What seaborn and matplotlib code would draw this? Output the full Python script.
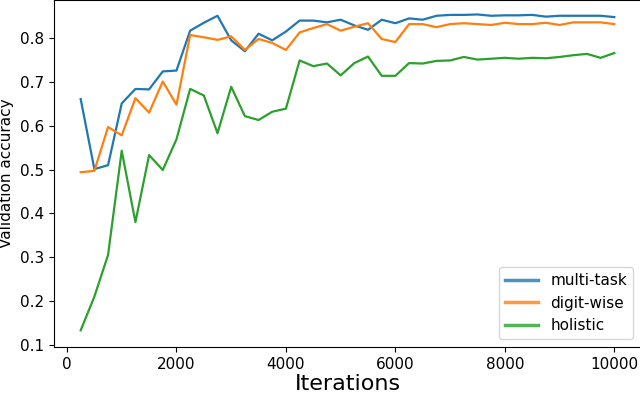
import numpy as np
import pandas as pd
import matplotlib
matplotlib.use("Agg")
import matplotlib.pyplot as plt
import seaborn as sns

# iterations: une mesure toutes les 250 iterations
iterations = list(range(250, 10001, 250))

multi_task = [0.661, 0.501, 0.510, 0.651, 0.684, 0.683, 0.724, 0.726,
              0.817, 0.835, 0.851, 0.795, 0.770, 0.810, 0.795, 0.815,
              0.840, 0.840, 0.836, 0.842, 0.829, 0.819, 0.842, 0.834,
              0.845, 0.842, 0.851, 0.853, 0.853, 0.854, 0.851, 0.852,
              0.852, 0.853, 0.849, 0.851, 0.851, 0.851, 0.851, 0.848]

digit_wise = [0.494, 0.497, 0.597, 0.578, 0.663, 0.630, 0.701, 0.648,
              0.807, 0.802, 0.796, 0.804, 0.773, 0.798, 0.789, 0.773,
              0.813, 0.823, 0.832, 0.817, 0.826, 0.834, 0.798, 0.791,
              0.832, 0.832, 0.825, 0.832, 0.834, 0.832, 0.830, 0.835,
              0.832, 0.832, 0.835, 0.830, 0.836, 0.836, 0.836, 0.832]

holistic = [0.133, 0.210, 0.305, 0.543, 0.380, 0.533, 0.499, 0.569,
            0.684, 0.669, 0.583, 0.689, 0.622, 0.613, 0.632, 0.639,
            0.749, 0.736, 0.742, 0.715, 0.743, 0.758, 0.714, 0.714,
            0.743, 0.742, 0.748, 0.749, 0.757, 0.751, 0.753, 0.755,
            0.753, 0.755, 0.754, 0.757, 0.761, 0.764, 0.755, 0.766]

series = {"multi-task": multi_task, "digit-wise": digit_wise, "holistic": holistic}

frames = []
for name, vals in series.items():
    frames.append(pd.DataFrame({"iteration": iterations, "acc": vals, "model": name}))
df = pd.concat(frames, ignore_index=True)

fig = plt.figure(figsize=(6.4, 3.99), dpi=100)
ax = fig.add_axes([54 / 640, 52 / 399, 587 / 640, 347 / 399])

sns.lineplot(data=df, x="iteration", y="acc", hue="model",
             palette=["#1f77b4", "#ff7f0e", "#2ca02c"], linewidth=1.6, ax=ax)

ax.set_xlim(-237.5, 10487.5)
ax.set_ylim(0.095, 0.887)
ax.set_xticks([0, 2000, 4000, 6000, 8000, 10000])
ax.set_yticks([0.1, 0.2, 0.3, 0.4, 0.5, 0.6, 0.7, 0.8])
ax.tick_params(labelsize=11)
ax.set_xlabel("Iterations", fontsize=16, labelpad=2)
ax.set_ylabel("Validation accuracy", fontsize=11)

leg = ax.legend(loc="lower right", fontsize=11, handlelength=2.2)
for line in leg.get_lines():
    line.set_linewidth(2.5)
    line.set_alpha(0.8)

fig.savefig("out.png", dpi=100)
